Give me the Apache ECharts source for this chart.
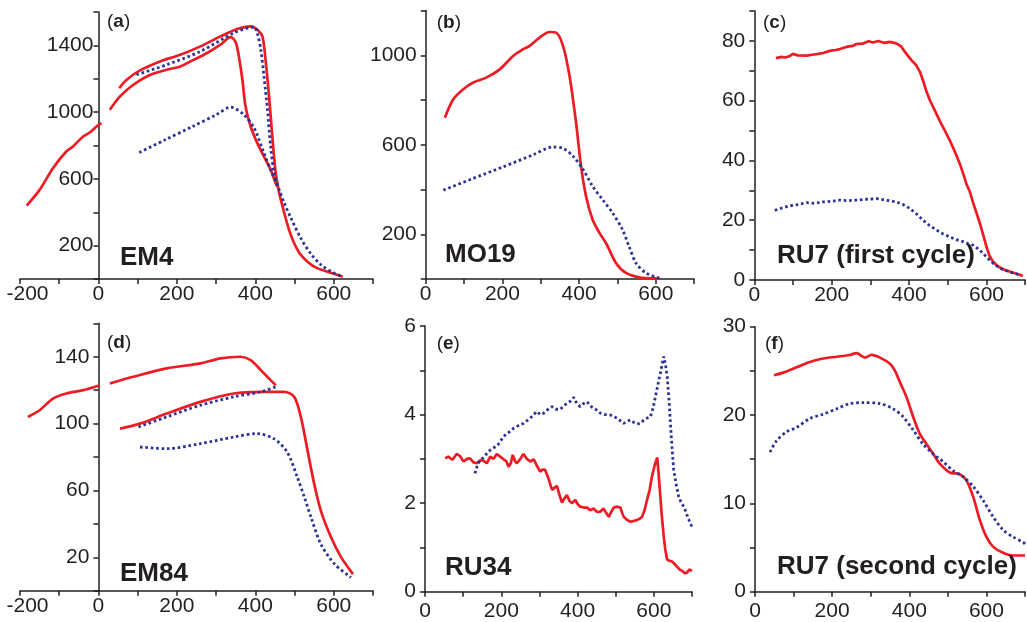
<!DOCTYPE html>
<html><head><meta charset="utf-8">
<script src="https://cdn.jsdelivr.net/npm/echarts@6/dist/echarts.min.js"></script>
<style>html,body{margin:0;padding:0;background:#fff}#c{width:1027px;height:622px}</style>
</head><body><div id="c"></div>
<script>
// Panel (a) EM4
const aRedLeft = [[-183,440],[-150,534],[-116,664],[-82,764],[-65,794],[-39,854],[-22,878],[0,924],[8,934]];
const aRedLower = [[29,1014],[55,1094],[89,1164],[132,1224],[174,1254],[209,1274],[243,1314],[277,1354],[311,1404],[337,1450],[350,1418],[358,1334],[367,1194],[375,1034],[388,914],[405,814],[422,734],[439,654],[452,574],[456,554]];
const aRedUpper = [[53,1144],[72,1194],[106,1250],[157,1304],[209,1344],[260,1394],[311,1454],[354,1498],[388,1514],[405,1494],[418,1454],[426,1314],[435,1094],[444,834],[452,634],[461,514],[474,394],[486,294],[499,214],[516,144],[550,74],[602,30],[623,14]];
const aBlueUpper = [[97,1224],[174,1284],[260,1364],[345,1474],[397,1510],[405,1474],[414,1374],[422,1214],[431,1014],[439,794],[448,634],[461,534],[474,454],[491,364],[516,244],[542,150],[568,84],[602,34],[623,14]];
const aBlueLower = [[104,758],[170,834],[240,914],[300,984],[337,1030],[371,984],[397,904],[422,754],[439,654],[456,564]];
// Panel (b) MO19
const bRed = [[50,721],[72,803],[98,848],[124,878],[158,900],[193,937],[228,997],[254,1027],[271,1042],[297,1079],[323,1104],[340,1101],[358,1042],[375,907],[392,699],[405,504],[418,370],[435,266],[453,206],[470,161],[496,72],[522,27],[557,7],[591,3],[609,3]];
const bBlue = [[46,397],[120,447],[200,500],[280,555],[332,590],[358,584],[384,549],[410,490],[435,415],[461,355],[487,296],[513,221],[530,146],[548,72],[574,27],[609,4]];
// Panel (c) RU7 first cycle
const cRed = [[56,74.2],[70,74.6],[80,74.4],[92,74.9],[100,75.6],[112,75.1],[135,75.0],[150,75.3],[165,75.6],[178,75.9],[195,76.6],[210,76.9],[221,77.2],[240,78.0],[255,78.3],[264,78.9],[280,79.0],[295,79.8],[307,79.4],[320,79.9],[335,79.3],[350,79.6],[367,79.1],[380,78.0],[393,75.6],[406,73.5],[419,71.7],[428,69.6],[436,66.7],[445,63.0],[454,60.0],[466,56.8],[479,53.3],[492,50.0],[505,46.7],[518,43.0],[531,38.9],[540,35.5],[548,32.2],[557,29.5],[566,25.6],[574,22.5],[583,18.9],[592,14.8],[600,11.1],[608,8.0],[617,6.1],[630,4.5],[643,3.6],[656,3.0],[669,2.4],[682,1.9],[694,1.3]];
const cBlue = [[53,23.3],[70,24.0],[92,24.8],[112,25.2],[135,25.9],[155,25.6],[178,26.1],[200,26.3],[221,26.7],[240,26.5],[264,26.7],[290,27.0],[316,27.2],[340,26.7],[367,26.1],[385,25.2],[402,23.9],[420,22.0],[436,20.0],[453,18.2],[471,16.7],[488,15.4],[505,14.4],[522,13.5],[540,12.8],[552,12.2],[565,11.7],[578,10.4],[591,8.9],[604,7.2],[617,5.6],[634,4.0],[651,3.1],[668,2.4],[686,1.7]];
// Panel (d) EM84
const dRedLeft = [[-180,104],[-150,108],[-116,115],[-82,118],[-39,120],[3,123]];
const dRedUpper = [[29,124],[89,128],[174,133],[260,136],[311,139],[362,140],[388,138],[414,132],[439,126],[452,123]];
const dRedLower = [[55,97],[106,100],[174,106],[260,113],[345,118],[414,119],[474,119],[499,116],[516,104],[533,84],[550,64],[567,48],[593,32],[619,20],[649,10]];
const dBlueUpper = [[102,98],[174,104],[260,111],[345,116],[414,119],[452,122]];
const dBlueLower = [[106,86],[174,85],[260,88],[345,92],[404,94],[447,91],[481,83],[507,68],[525,56],[542,44],[567,28],[602,16],[644,8]];
// Panel (e) RU34
const eRed = [[53,3.01],[61,3.05],[72,2.98],[83,3.11],[92,3.06],[101,2.94],[110,3.0],[118,3.01],[127,2.92],[136,2.9],[145,2.97],[153,2.96],[162,2.9],[171,3.05],[180,3.0],[188,3.11],[197,3.05],[206,2.99],[213,2.95],[219,2.82],[225,2.9],[230,3.09],[236,2.95],[241,2.9],[250,3.0],[258,3.11],[267,3.0],[276,2.94],[285,2.99],[293,2.85],[302,2.71],[308,2.76],[315,2.75],[324,2.55],[333,2.3],[340,2.35],[346,2.39],[352,2.2],[359,2.01],[365,2.1],[372,2.18],[379,2.05],[385,2.0],[394,2.07],[400,1.98],[407,1.92],[416,1.9],[425,1.9],[433,1.84],[442,1.88],[451,1.8],[460,1.81],[468,1.88],[475,1.78],[482,1.69],[488,1.8],[495,1.9],[504,1.92],[512,1.9],[517,1.78],[521,1.69],[530,1.62],[539,1.58],[548,1.6],[556,1.62],[563,1.65],[569,1.69],[576,1.85],[582,2.07],[589,2.3],[595,2.6],[602,2.85],[609,3.03],[613,2.6],[617,2.15],[621,1.7],[626,1.24],[630,0.95],[635,0.72],[641,0.7],[648,0.68],[655,0.62],[661,0.56],[668,0.5],[674,0.47],[681,0.42],[687,0.43],[693,0.5],[700,0.47]];
const eBlue = [[131,2.67],[137,2.85],[144,2.97],[152,3.02],[160,3.1],[171,3.2],[180,3.25],[190,3.3],[197,3.39],[206,3.5],[215,3.58],[224,3.62],[232,3.69],[245,3.75],[258,3.8],[267,3.86],[276,3.92],[285,4.0],[293,4.07],[302,4.0],[311,4.03],[320,4.1],[333,4.18],[343,4.12],[355,4.12],[364,4.2],[372,4.25],[381,4.3],[390,4.39],[398,4.25],[407,4.18],[416,4.25],[425,4.29],[433,4.2],[442,4.14],[451,4.1],[460,4.03],[472,4.0],[486,3.99],[495,3.95],[504,3.92],[512,3.86],[521,3.8],[530,3.85],[539,3.88],[548,3.82],[556,3.79],[565,3.8],[574,3.88],[582,3.92],[591,3.95],[598,4.15],[604,4.4],[610,4.65],[617,4.93],[622,5.15],[626,5.31],[631,5.1],[635,4.86],[640,4.3],[644,3.73],[648,3.2],[652,2.75],[658,2.45],[665,2.15],[672,2.0],[679,1.92],[686,1.75],[692,1.62],[700,1.46]];
// Panel (f) RU7 second cycle
const fRed = [[49,24.5],[73,24.8],[108,25.4],[142,26.0],[177,26.4],[212,26.6],[246,26.8],[263,27.0],[285,26.5],[302,26.8],[324,26.5],[350,25.8],[363,25.0],[376,23.7],[393,22.0],[410,19.8],[427,17.9],[445,16.7],[462,15.6],[479,14.5],[505,13.5],[531,13.3],[548,12.6],[566,10.7],[583,8.1],[600,6.2],[617,5.1],[643,4.4],[669,4.1],[700,4.1]];
const fBlue = [[39,15.8],[56,17.1],[82,18.1],[108,18.6],[142,19.6],[177,20.1],[212,20.7],[246,21.3],[281,21.4],[324,21.3],[358,20.7],[384,19.8],[410,18.3],[436,16.7],[462,15.6],[488,14.7],[514,13.7],[540,13.0],[566,11.9],[592,10.3],[617,8.5],[643,7.0],[669,6.2],[695,5.6],[700,5.4]];

const panelTags = ['a','b','c','d','e','f'];
const panelNames = ['EM4','MO19','RU7 (first cycle)','EM84','RU34','RU7 (second cycle)'];

const RED = '#ed1c24', BLUE = '#2b3192', INK = '#231f20';
const FONT = 'Liberation Sans, Arial, sans-serif';

const grids = [
  {left:20, top:12, width:353, height:267},
  {left:425.7, top:10.5, width:268.5, height:268.5},
  {left:754.3, top:10.8, width:270.9, height:269.2},
  {left:20, top:323.3, width:353, height:267.5},
  {left:425, top:326, width:267, height:265.7},
  {left:755, top:326.7, width:270, height:265}
];
const xCfg = [
  {min:-200,max:700,margin:5},{min:0,max:700,margin:5},{min:0,max:700,margin:5},
  {min:-200,max:700,margin:5},{min:0,max:700,margin:9},{min:0,max:700,margin:9}
];
const yCfg = [
  {min:0,max:1600,interval:200,show:v=>(v-200)%400===0,margin:5},
  {min:0,max:1200,interval:200,show:v=>(v-200)%400===0,margin:9},
  {min:0,max:90,interval:10,show:v=>v%20===0,margin:9},
  {min:0,max:160,interval:20,show:v=>(v-20)%40===0,margin:9},
  {min:0,max:6,interval:1,show:v=>v%2===0,margin:9},
  {min:0,max:30,interval:5,show:v=>v%10===0,margin:9}
];
const axisStyle = {color:INK,width:1.5};
const axisTick = {show:true, length:5, inside:false, lineStyle:axisStyle};

const xAxes = xCfg.map((c,i)=>({
  type:'value', gridIndex:i, min:c.min, max:c.max, interval:100,
  axisLine:{show:true, onZero:false, lineStyle:axisStyle}, axisTick, splitLine:{show:false},
  axisLabel:{margin:c.margin, fontSize:21, fontFamily:FONT, color:INK, hideOverlap:false,
    rich:{m:{fontSize:21, fontFamily:FONT, color:INK, padding:[0,0,0,15]}},
    formatter:v=> (v%200!==0 ? '' : (v<0 ? '{m|'+v+'}' : String(v)))}
}));
// y axis sits on x = 0: shift by the pixel distance from the grid's left edge to x = 0
const yAxes = yCfg.map((c,i)=>{
  const xc = xCfg[i];
  const shift = -grids[i].width * (0 - xc.min) / (xc.max - xc.min);
  return {
    type:'value', gridIndex:i, min:c.min, max:c.max, interval:c.interval, position:'left', offset:shift,
    axisLine:{show:true, onZero:false, lineStyle:axisStyle}, axisTick, splitLine:{show:false},
    axisLabel:{margin:c.margin, fontSize:21, fontFamily:FONT, color:INK, hideOverlap:false,
      formatter:v=> (c.show(v) ? String(v) : '')}
  };
});

function line(data, i, color, dotted, smooth){
  return {type:'line', xAxisIndex:i, yAxisIndex:i, data, showSymbol:false, symbol:'none',
    smooth: smooth, animation:false, silent:true,
    lineStyle:{color, width: dotted?2.8:2.7, type: dotted?[2.6,2.8]:'solid'}};
}
const series = [
  line(aRedLeft,0,RED,false,0.3), line(aRedLower,0,RED,false,0.3), line(aRedUpper,0,RED,false,0.3),
  line(aBlueUpper,0,BLUE,true,0.3), line(aBlueLower,0,BLUE,true,0.3),
  line(bRed,1,RED,false,0.3), line(bBlue,1,BLUE,true,0.3),
  line(cRed,2,RED,false,false), line(cBlue,2,BLUE,true,false),
  line(dRedLeft,3,RED,false,0.3), line(dRedUpper,3,RED,false,0.3), line(dRedLower,3,RED,false,0.3),
  line(dBlueUpper,3,BLUE,true,0.3), line(dBlueLower,3,BLUE,true,0.3),
  line(eRed,4,RED,false,false), line(eBlue,4,BLUE,true,false),
  line(fRed,5,RED,false,0.3), line(fBlue,5,BLUE,true,0.3)
];

const tagPos = [[107,22],[436.7,22.5],[763,22.5],[107,342.3],[436.7,343.3],[765,343.3]];
const namePos = [[120,257.5],[445,255],[777,256],[120,574],[445,567.5],[777,567]];
const graphics = [];
panelTags.forEach((t,i)=>{
  graphics.push({type:'text', x:tagPos[i][0], y:tagPos[i][1], silent:true, z:10,
    style:{text:'{r|(}{b|'+t+'}{r|)}', verticalAlign:'middle', align:'left',
      rich:{r:{fontSize:19,fontFamily:FONT,fill:INK,fontWeight:'normal'},
            b:{fontSize:19,fontFamily:FONT,fill:INK,fontWeight:'bold'}}}});
  graphics.push({type:'text', x:namePos[i][0], y:namePos[i][1], silent:true, z:10,
    style:{text:panelNames[i], fontSize:26, fontWeight:'bold', fontFamily:FONT, fill:INK,
      verticalAlign:'middle', align:'left'}});
});

const chart = echarts.init(document.getElementById('c'), null, {renderer:'canvas'});
chart.setOption({
  animation:false, backgroundColor:'#fff',
  grid: grids.map(g=>Object.assign({containLabel:false, outerBoundsMode:'none'}, g)),
  xAxis:xAxes, yAxis:yAxes, series, graphic:graphics
});
</script></body></html>
